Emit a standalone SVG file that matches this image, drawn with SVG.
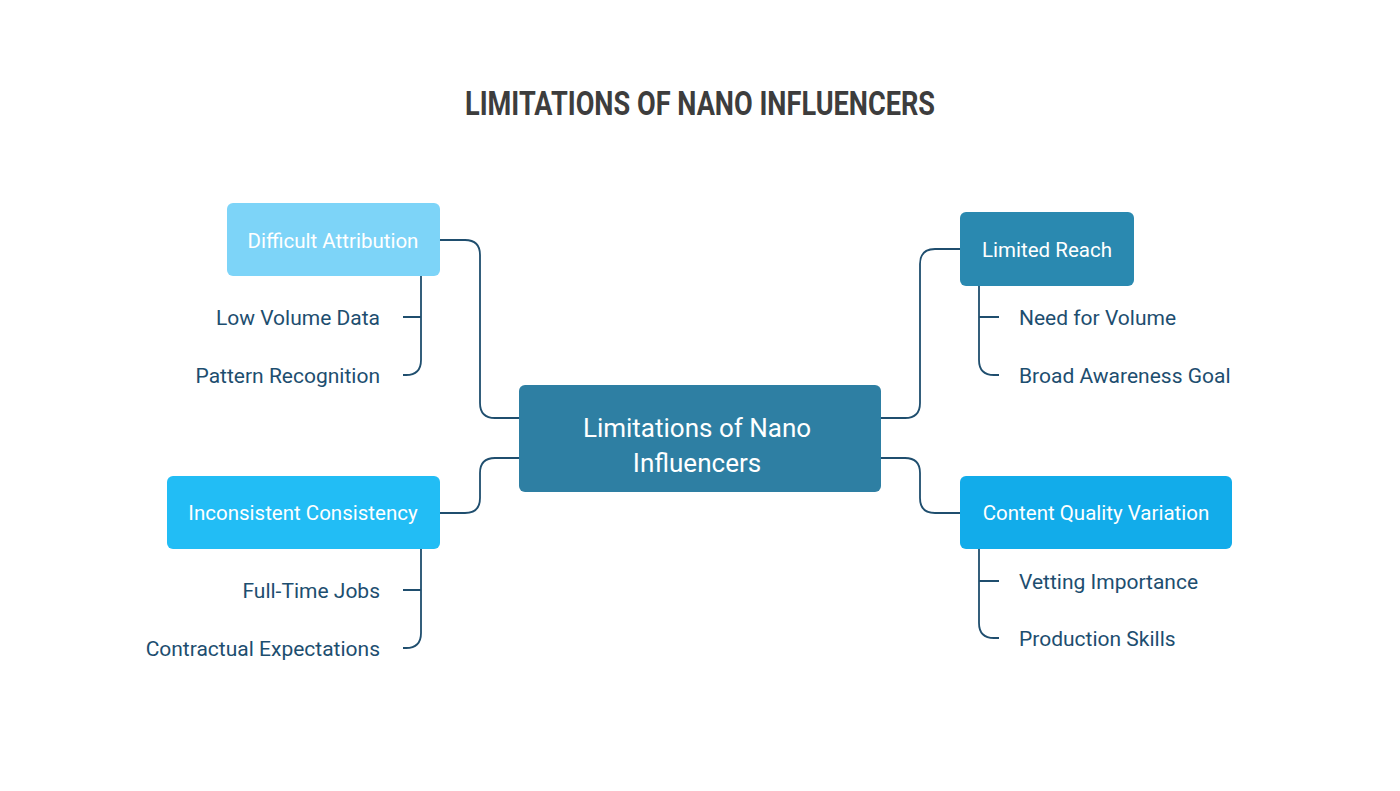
<svg xmlns="http://www.w3.org/2000/svg" width="1400" height="791" viewBox="0 0 1400 791">
<style>
.t{font-family:"Liberation Sans Narrow","Roboto","Liberation Sans",sans-serif;}
.title{font-size:34px;font-weight:bold;fill:#3d3d3d;text-anchor:middle;}
.nt{font-size:20.5px;fill:#fff;text-anchor:middle;}
.ct{font-size:26px;fill:#fff;text-anchor:middle;}
.lf{font-size:21px;fill:#1d4e6f;}
.c{fill:none;stroke:#1f4e6e;stroke-width:1.8;}
</style>
<rect width="1400" height="791" fill="#fff"/>
<text class="t title" x="700" y="115" textLength="470" lengthAdjust="spacingAndGlyphs">LIMITATIONS OF NANO INFLUENCERS</text>
<g id="connectors">
<path class="c" d="M519,418 H495 Q480,418 480,403 V255 Q480,240 465,240 H440"/>
<path class="c" d="M519,458 H495 Q480,458 480,473 V498 Q480,513 465,513 H440"/>
<path class="c" d="M881,418 H905 Q920,418 920,403 V264 Q920,249 935,249 H960"/>
<path class="c" d="M881,458 H905 Q920,458 920,473 V498 Q920,513 935,513 H960"/>
<path class="c" d="M421,276 V360 Q421,375 406,375 H403 M403,317 H421"/>
<path class="c" d="M979,286 V360 Q979,375 994,375 H999 M979,317 H999"/>
<path class="c" d="M421,549 V633 Q421,648 406,648 H403 M403,590 H421"/>
<path class="c" d="M979,549 V623 Q979,638 994,638 H999 M979,581 H999"/>
</g>
<g id="center"><rect x="519" y="385" width="362" height="107" rx="6" fill="#2e7fa3"/>
<text class="t ct" x="697" y="437">Limitations of Nano</text><text class="t ct" x="697" y="472">Influencers</text></g>
<g id="n1"><rect x="227" y="203" width="213" height="73" rx="6" fill="#7dd4f8"/><text class="t nt" x="333" y="248">Difficult Attribution</text></g>
<g id="n2"><rect x="960" y="212" width="174" height="74" rx="6" fill="#2a89b0"/><text class="t nt" x="1047" y="257">Limited Reach</text></g>
<g id="n3"><rect x="167" y="476" width="273" height="73" rx="6" fill="#22bdf5"/><text class="t nt" x="303" y="520">Inconsistent Consistency</text></g>
<g id="n4"><rect x="960" y="476" width="272" height="73" rx="6" fill="#12acea"/><text class="t nt" x="1096" y="520">Content Quality Variation</text></g>
<g id="leaves">
<text class="t lf" x="380" y="325" text-anchor="end">Low Volume Data</text>
<text class="t lf" x="380" y="383" text-anchor="end">Pattern Recognition</text>
<text class="t lf" x="1019" y="325">Need for Volume</text>
<text class="t lf" x="1019" y="383">Broad Awareness Goal</text>
<text class="t lf" x="380" y="598" text-anchor="end">Full-Time Jobs</text>
<text class="t lf" x="380" y="656" text-anchor="end">Contractual Expectations</text>
<text class="t lf" x="1019" y="589">Vetting Importance</text>
<text class="t lf" x="1019" y="646">Production Skills</text>
</g>
</svg>
